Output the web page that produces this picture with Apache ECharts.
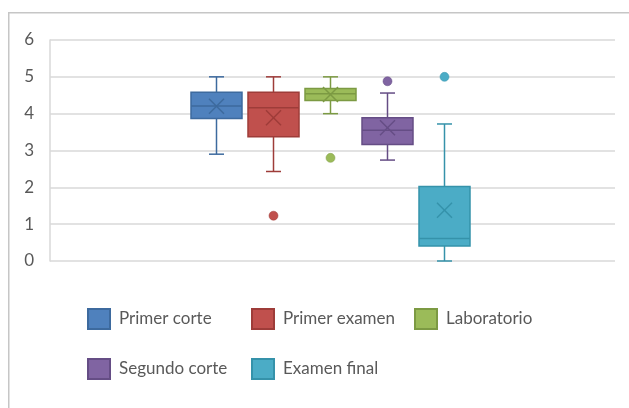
<!DOCTYPE html>
<html>
<head>
<meta charset="utf-8">
<script src="https://cdn.jsdelivr.net/npm/echarts@6/dist/echarts.min.js"></script>
<style>
  html, body { margin: 0; padding: 0; background: #ffffff; }
  #chart { width: 629px; height: 408px; }
</style>
</head>
<body>
<div id="chart"></div>
<script>
// Five-number summaries, means and outliers for each grade component
const categories  = ['Primer corte', 'Primer examen', 'Laboratorio', 'Segundo corte', 'Examen final'];
const whiskerLow  = [2.9, 2.43, 4.0, 2.74, 0.0];
const quartile1   = [3.87, 3.37, 4.36, 3.16, 0.41];
const medians     = [4.21, 4.16, 4.54, 3.55, 0.61];
const quartile3   = [4.58, 4.58, 4.68, 3.89, 2.02];
const whiskerHigh = [5.0, 5.0, 5.0, 4.56, 3.72];
const means       = [4.2, 3.89, 4.52, 3.62, 1.38];
const outliers    = [[], [1.23], [2.8], [4.88], [5.0]];
const yTicks      = [0, 1, 2, 3, 4, 5, 6];

const fills = ['#4f81bd', '#c0504d', '#9bbb59', '#8064a2', '#4bacc6'];
const edges = ['#3d6a9e', '#9e3c39', '#7c9a43', '#654d85', '#3592aa'];

const BOX_W = 51;
const CAP_W = 15;
const MEAN_HALF = 7.5;
const LINE_W = 1.5;
const FONT = 'Lato, "Open Sans", sans-serif';
const TEXT_COLOR = '#595959';

// Draws one box: whiskers with short caps, the Q1–Q3 box, the median line and an X at the mean
function boxRenderer(edge) {
  return function (params, api) {
    const cat = api.value(0);
    const at = v => api.coord([cat, v]);
    const cx = at(api.value(5))[0];
    const yLow = at(api.value(1))[1];
    const yQ1 = at(api.value(2))[1];
    const yMed = at(api.value(3))[1];
    const yQ3 = at(api.value(4))[1];
    const yHigh = at(api.value(5))[1];
    const yMean = at(api.value(6))[1];
    const lineStyle = { stroke: edge, lineWidth: LINE_W, fill: null };
    const seg = (x1, y1, x2, y2) => ({
      type: 'line', shape: { x1, y1, x2, y2 }, style: lineStyle
    });
    return {
      type: 'group',
      children: [
        seg(cx, yLow, cx, yQ1),
        seg(cx, yQ3, cx, yHigh),
        seg(cx - CAP_W / 2, yLow, cx + CAP_W / 2, yLow),
        seg(cx - CAP_W / 2, yHigh, cx + CAP_W / 2, yHigh),
        {
          type: 'rect',
          shape: { x: cx - BOX_W / 2, y: yQ3, width: BOX_W, height: yQ1 - yQ3 },
          style: { fill: api.visual('color'), stroke: edge, lineWidth: LINE_W }
        },
        seg(cx - BOX_W / 2, yMed, cx + BOX_W / 2, yMed),
        seg(cx - MEAN_HALF, yMean - MEAN_HALF, cx + MEAN_HALF, yMean + MEAN_HALF),
        seg(cx - MEAN_HALF, yMean + MEAN_HALF, cx + MEAN_HALF, yMean - MEAN_HALF)
      ]
    };
  };
}

const series = [];
categories.forEach((name, i) => {
  series.push({
    name: name,
    type: 'custom',
    xAxisIndex: 1,
    yAxisIndex: 1,
    encode: { x: 0, y: [1, 2, 3, 4, 5, 6] },
    itemStyle: { color: fills[i], borderColor: edges[i], borderWidth: 1 },
    renderItem: boxRenderer(edges[i]),
    data: [[name, whiskerLow[i], quartile1[i], medians[i], quartile3[i], whiskerHigh[i], means[i]]],
    z: 3
  });
});
categories.forEach((name, i) => {
  series.push({
    name: name,
    type: 'scatter',
    xAxisIndex: 1,
    yAxisIndex: 1,
    symbol: 'circle',
    symbolSize: 9,
    itemStyle: { color: fills[i], borderColor: edges[i], borderWidth: 0.5, opacity: 1 },
    data: outliers[i].map(v => [name, v]),
    z: 4
  });
});

function legendColumn(names, left) {
  return {
    data: names,
    orient: 'vertical',
    left: left,
    top: 308,
    padding: 0,
    icon: 'rect',
    itemWidth: 22,
    itemHeight: 20,
    itemGap: 28,
    selectedMode: false,
    textStyle: { color: TEXT_COLOR, fontFamily: FONT, fontSize: 17, padding: [0, 0, 0, 4] }
  };
}

const chart = echarts.init(document.getElementById('chart'), null, { renderer: 'canvas' });
chart.setOption({
  animation: false,
  backgroundColor: '#ffffff',
  graphic: [{
    type: 'rect',
    shape: { x: 8.75, y: 12.75, width: 700, height: 500 },
    style: { fill: null, stroke: '#c6c6c6', lineWidth: 1.5 },
    silent: true
  }],
  grid: [
    { left: 50, top: 40, width: 565, height: 221, containLabel: false },
    { left: 188, top: 40, width: 285, height: 221, containLabel: false }
  ],
  xAxis: [
    { gridIndex: 0, type: 'category', data: [''], show: false },
    { gridIndex: 1, type: 'category', data: categories, boundaryGap: true, show: false }
  ],
  yAxis: [
    {
      gridIndex: 0,
      type: 'value',
      min: yTicks[0],
      max: yTicks[yTicks.length - 1],
      interval: 1,
      axisLine: { show: true, lineStyle: { color: '#d9d9d9', width: 1.5 } },
      axisTick: { show: false },
      splitLine: { show: true, lineStyle: { color: '#d9d9d9', width: 1.5 } },
      axisLabel: { color: TEXT_COLOR, fontFamily: FONT, fontSize: 17, margin: 16 }
    },
    {
      gridIndex: 1,
      type: 'value',
      min: yTicks[0],
      max: yTicks[yTicks.length - 1],
      show: false,
      splitLine: { show: false }
    }
  ],
  legend: [
    legendColumn([categories[0], categories[3]], 87),
    legendColumn([categories[1], categories[4]], 251),
    legendColumn([categories[2]], 414)
  ],
  series: series
});
</script>
</body>
</html>
